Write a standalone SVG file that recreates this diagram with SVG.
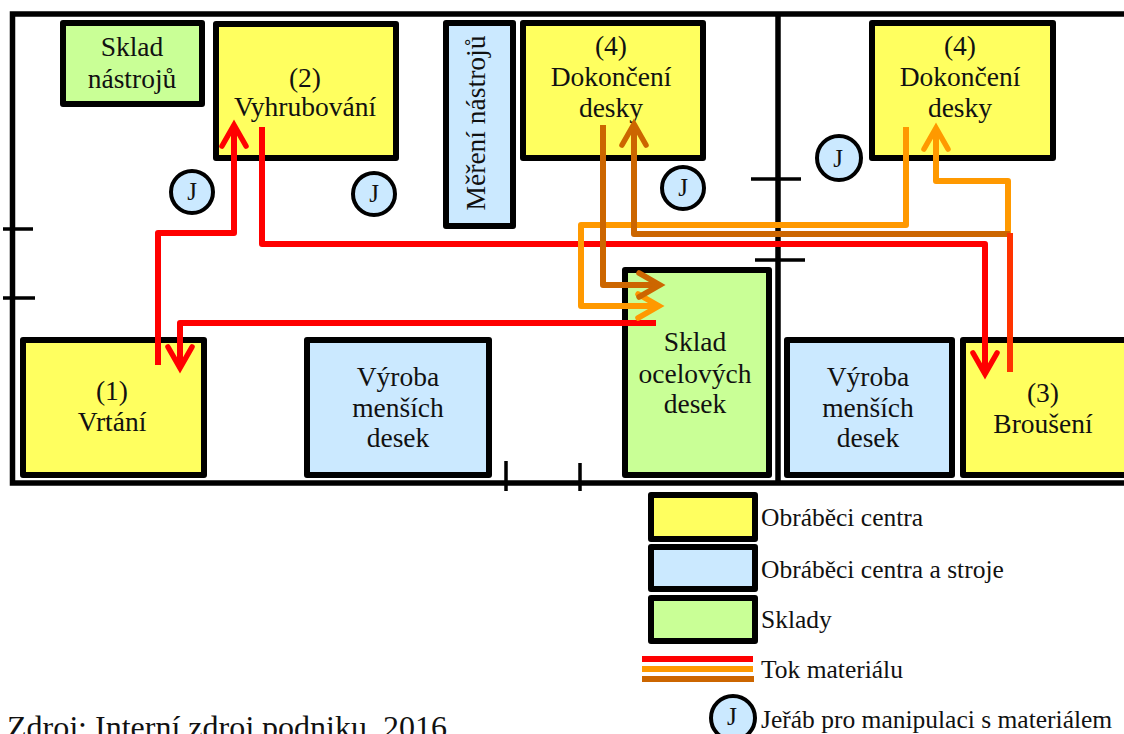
<svg xmlns="http://www.w3.org/2000/svg" width="1124" height="734" viewBox="0 0 1124 734">
<defs>
<marker id="r" markerUnits="userSpaceOnUse" markerWidth="40" markerHeight="40" refX="27" refY="20" orient="auto"><path d="M7 8L28 20L7 32" fill="none" stroke="#f00" stroke-width="5.500" stroke-linecap="round"/></marker>
<marker id="o" markerUnits="userSpaceOnUse" markerWidth="40" markerHeight="40" refX="27" refY="20" orient="auto"><path d="M7 8L28 20L7 32" fill="none" stroke="#f90" stroke-width="5.500" stroke-linecap="round"/></marker>
<marker id="b" markerUnits="userSpaceOnUse" markerWidth="40" markerHeight="40" refX="27" refY="20" orient="auto"><path d="M7 8L28 20L7 32" fill="none" stroke="#c60" stroke-width="5.500" stroke-linecap="round"/></marker>
</defs>
<style>
text{font-family:"Liberation Serif","Times New Roman",serif;fill:#111}
.n text{font-size:27.500px;text-anchor:middle}
.box{stroke:#000;stroke-width:6;stroke-linejoin:round}
.y{fill:#ffff5f}.c{fill:#cbe9ff}.g{fill:#c9ff96}
.wall{fill:none;stroke:#000;stroke-width:5.500}
.tick{fill:none;stroke:#000;stroke-width:3.500}
.j circle{fill:#cbe9ff;stroke:#000;stroke-width:4}
.j text{font-size:25px;text-anchor:middle}
.f{fill:none;stroke-linejoin:round;stroke-width:6}
.l text{font-size:25.500px}
</style>
<g id="walls">
<path class="wall" d="M1124 14H12.500V483H1124"/>
<path class="wall" d="M778 14V483"/>
<path class="tick" d="M3 229H33M3 298H35M751 179H801M755 260H805M506 461V491M580 463V491"/>
</g>
<g id="sklad-nastroju" class="n"><rect class="box g" x="63" y="23" width="139" height="81"/><text x="132" y="56">Sklad</text><text x="132" y="88">nástrojů</text></g>
<g id="vyhrubovani" class="n"><rect class="box y" x="216" y="24" width="180" height="134"/><text x="305" y="87">(2)</text><text x="305" y="116">Vyhrubování</text></g>
<g id="mereni" class="n"><rect class="box c" x="446" y="23" width="67" height="203"/><text transform="translate(485 123) rotate(-90)">Měření nástrojů</text></g>
<g id="dokonceni-1" class="n"><rect class="box y" x="523" y="23" width="180" height="135"/><text x="611" y="55">(4)</text><text x="611" y="86">Dokončení</text><text x="611" y="117">desky</text></g>
<g id="dokonceni-2" class="n"><rect class="box y" x="872" y="23" width="181" height="135"/><text x="960" y="55">(4)</text><text x="960" y="86">Dokončení</text><text x="960" y="117">desky</text></g>
<g id="vrtani" class="n"><rect class="box y" x="23" y="340" width="181" height="135"/><text x="112" y="400">(1)</text><text x="112" y="431">Vrtání</text></g>
<g id="vyroba-1" class="n"><rect class="box c" x="307" y="340" width="182" height="135"/><text x="398" y="386">Výroba</text><text x="398" y="417">menších</text><text x="398" y="447">desek</text></g>
<g id="sklad-ocel" class="n"><rect class="box g" x="625" y="270" width="144" height="205"/><text x="695" y="351">Sklad</text><text x="695" y="383">ocelových</text><text x="695" y="413">desek</text></g>
<g id="vyroba-2" class="n"><rect class="box c" x="787" y="340" width="165" height="135"/><text x="868" y="386">Výroba</text><text x="868" y="417">menších</text><text x="868" y="447">desek</text></g>
<g id="brouseni" class="n"><rect class="box y" x="963" y="340" width="170" height="135"/><text x="1043" y="402">(3)</text><text x="1043" y="433">Broušení</text></g>
<g id="j1" class="j"><circle cx="192" cy="192" r="21"/><text x="192" y="200">J</text></g>
<g id="j2" class="j"><circle cx="374" cy="194" r="21"/><text x="374" y="202">J</text></g>
<g id="j3" class="j"><circle cx="683" cy="188" r="21"/><text x="683" y="196">J</text></g>
<g id="j4" class="j"><circle cx="839" cy="158" r="22"/><text x="838" y="167">J</text></g>
<g id="connectors">
<path class="f" stroke="#f00" marker-end="url(#r)" d="M158 365V233H234V126"/>
<path class="f" stroke="#f00" marker-end="url(#r)" d="M262 127V244H985V373"/>
<path class="f" stroke="#f00" marker-end="url(#r)" d="M656 323H180V367"/>
<path class="f" stroke="#f90" marker-end="url(#o)" d="M906 127V225H581V306H658"/>
<path class="f" stroke="#f90" marker-end="url(#o)" d="M1008 234V181H936V129"/>
<path class="f" stroke="#c60" marker-end="url(#b)" d="M603 125V285H659"/>
<path class="f" stroke="#c60" marker-end="url(#b)" d="M1010 234H634V125"/>
<path class="f" stroke="#f30" d="M1010 233V372"/>
</g>
<g id="legend" class="l">
<rect class="box y" x="651" y="495" width="104" height="44"/><text x="761" y="526">Obráběci centra</text>
<rect class="box c" x="651" y="547" width="104" height="42"/><text x="761" y="578">Obráběci centra a stroje</text>
<rect class="box g" x="651" y="598" width="104" height="43"/><text x="761" y="628">Sklady</text>
<path fill="none" stroke="#f00" stroke-width="6" d="M642 659H753"/><path fill="none" stroke="#f90" stroke-width="6" d="M642 669H753"/><path fill="none" stroke="#c60" stroke-width="6" d="M642 679H754"/>
<text x="761" y="678">Tok materiálu</text>
<g id="legend-j" class="j"><circle cx="733" cy="718" r="22"/><text x="732" y="725">J</text></g>
<text x="761" y="728">Jeřáb pro manipulaci s materiálem</text>
</g>
<text x="7" y="738" style="font-size:32px">Zdroj: Interní zdroj podniku, 2016</text>
</svg>
